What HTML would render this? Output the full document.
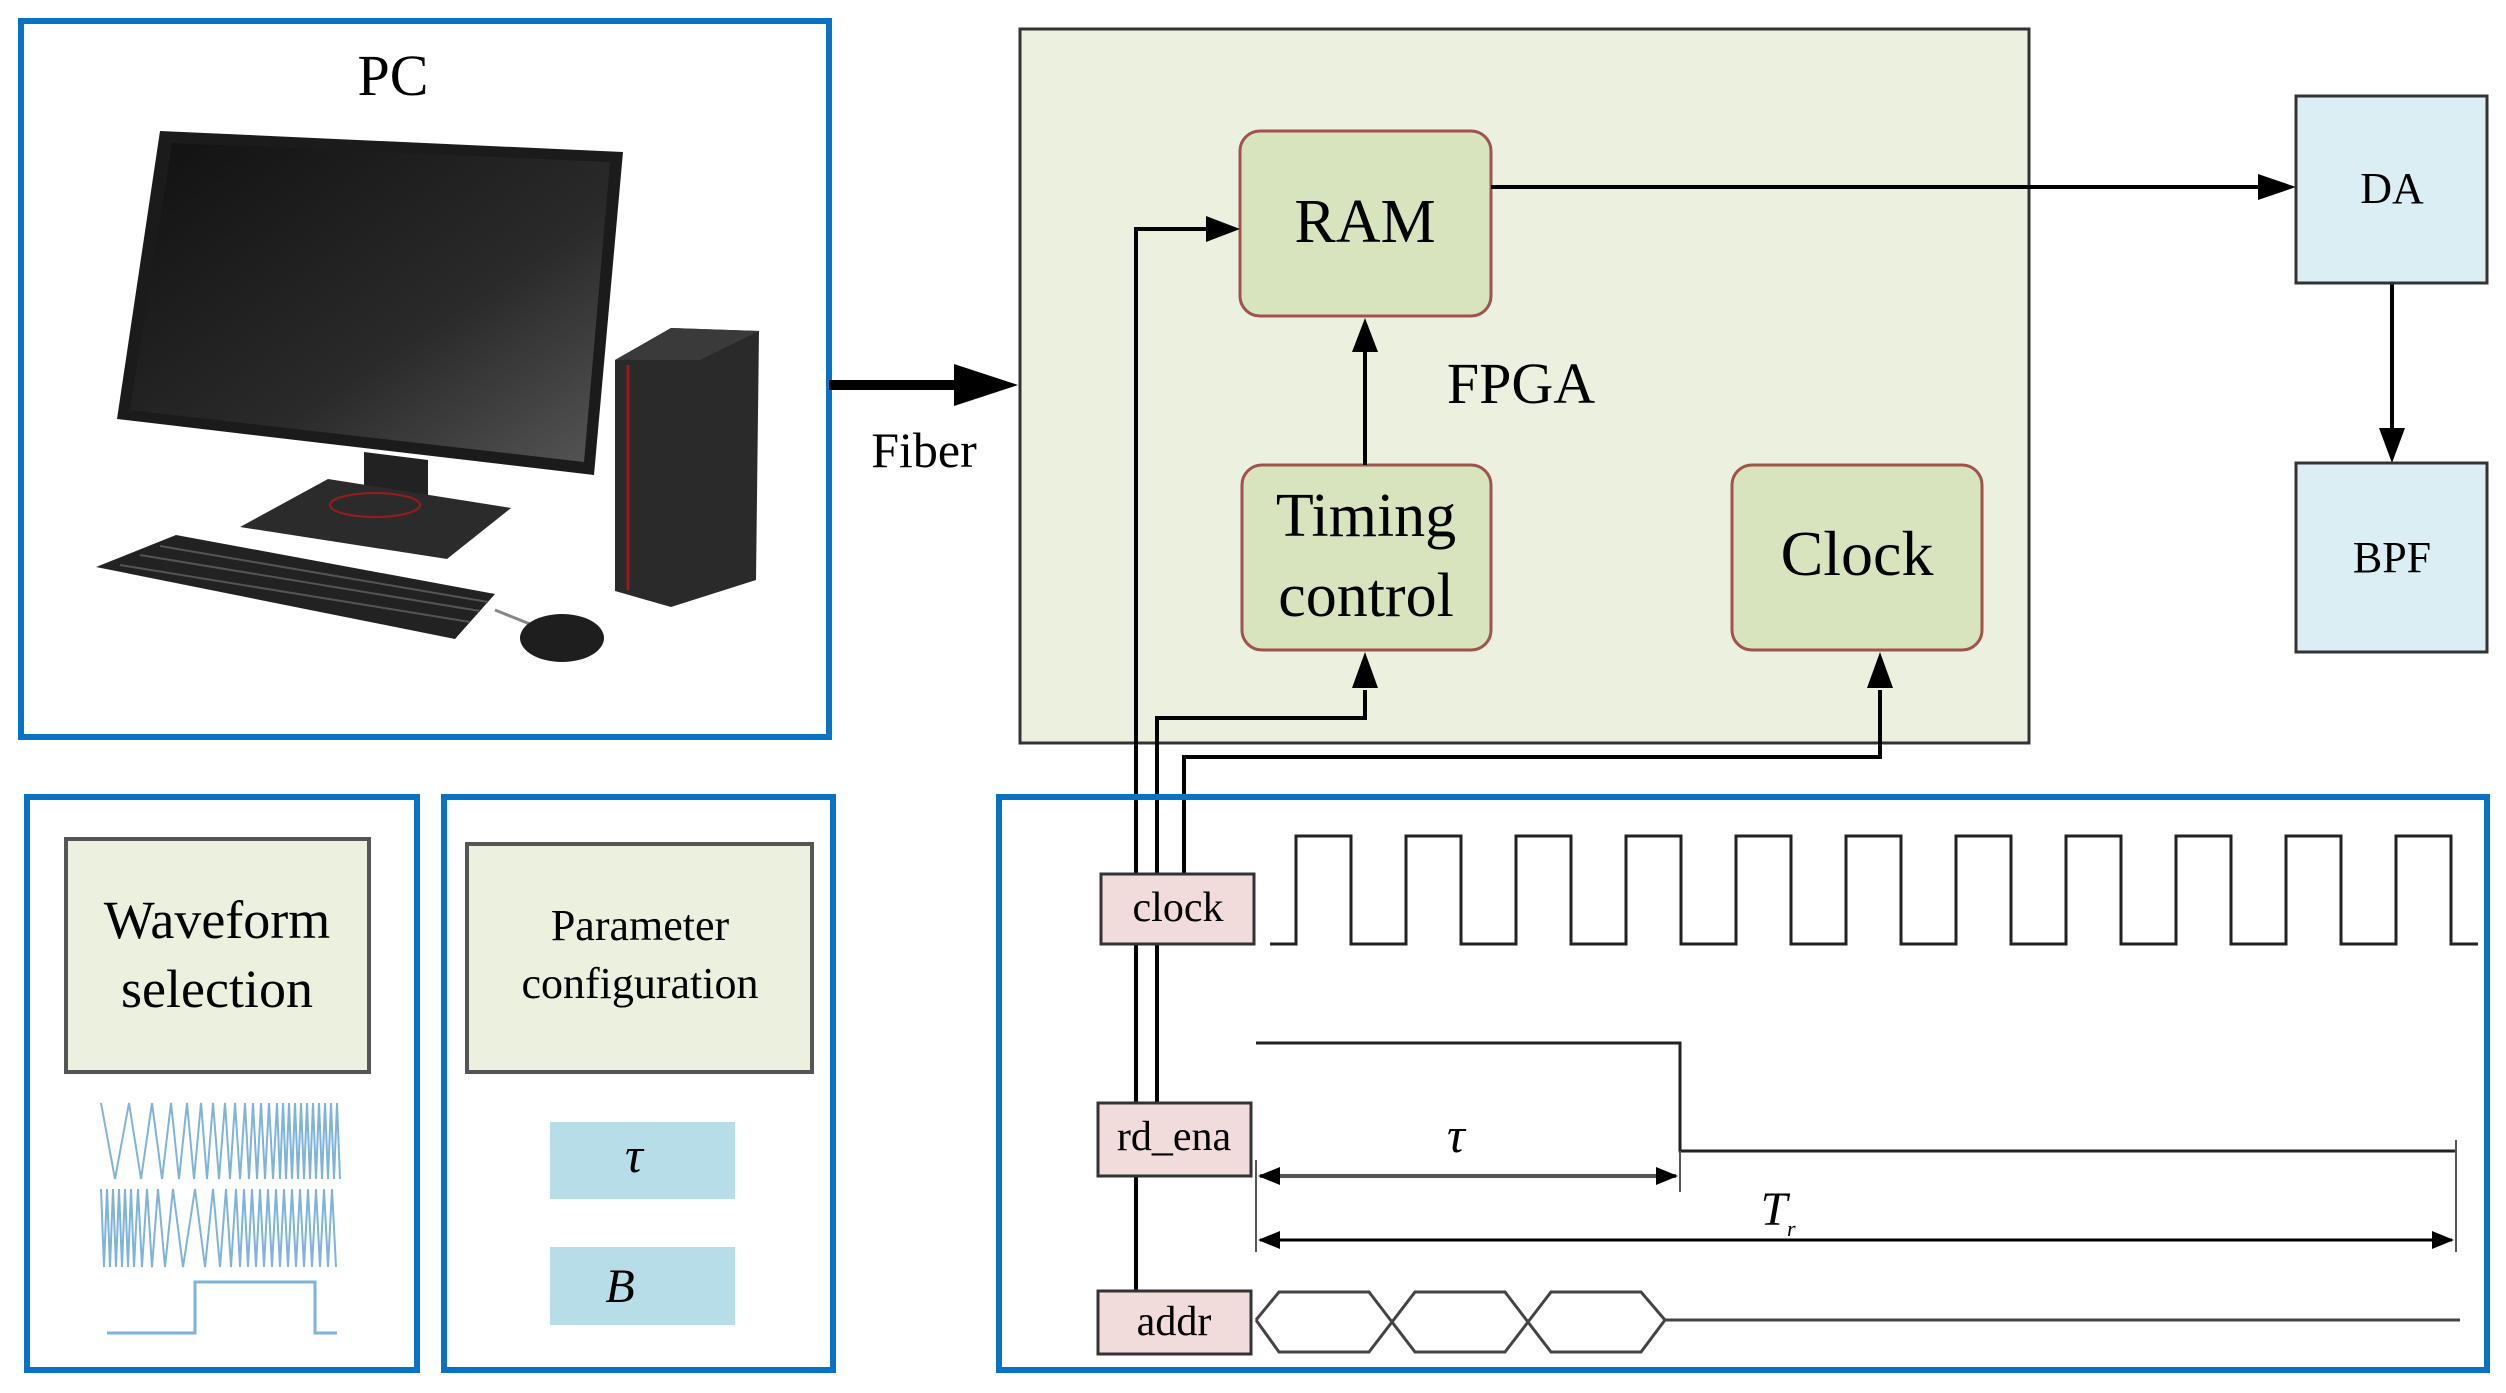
<!DOCTYPE html>
<html><head><meta charset="utf-8"><style>
html,body{margin:0;padding:0;background:#fff;}
svg{display:block;}
svg text{font-family:"Liberation Serif","Times New Roman","DejaVu Serif",serif !important;fill:#000;}
</style></head><body>
<svg width="2506" height="1393" viewBox="0 0 2506 1393" xmlns="http://www.w3.org/2000/svg" font-family="Liberation Serif, serif">
<defs>
<linearGradient id="scr" x1="0" y1="0" x2="1" y2="1"><stop offset="0" stop-color="#111"/><stop offset="0.6" stop-color="#2a2a2a"/><stop offset="1" stop-color="#555"/></linearGradient>
</defs>

<rect x="21" y="21" width="808" height="716" fill="#fff" stroke="#0a72c4" stroke-width="6"/>
<text x="393" y="95" font-size="58" text-anchor="middle" font-family="Liberation Serif, serif">PC</text>
<polygon points="160,131 623,152 594,475 117,419" fill="#1b1b1b"/>
<polygon points="172,143 610,162 584,462 130,410" fill="url(#scr)"/>
<polygon points="364,452 428,460 428,510 364,503" fill="#222"/>
<polygon points="240,527 328,479 511,508 447,559" fill="#2b2b2b"/>
<ellipse cx="375" cy="505" rx="45" ry="12" fill="none" stroke="#9b1b1b" stroke-width="2"/>
<polygon points="96,567 176,535 495,594 455,639" fill="#222"/>
<g stroke="#555" stroke-width="2">
<line x1="120" y1="565" x2="470" y2="622"/><line x1="140" y1="555" x2="480" y2="611"/><line x1="160" y1="546" x2="488" y2="602"/>
</g>
<path d="M495,610 Q520,620 545,630" stroke="#888" stroke-width="3" fill="none"/>
<ellipse cx="562" cy="638" rx="42" ry="24" fill="#1e1e1e"/>
<polygon points="615,360 671,328 759,331 756,580 671,607 615,591" fill="#2a2a2a"/>
<polygon points="615,360 671,328 759,331 700,360" fill="#3a3a3a"/>
<line x1="628" y1="365" x2="628" y2="590" stroke="#9b1b1b" stroke-width="3"/>

<line x1="829" y1="385" x2="960" y2="385" stroke="#000" stroke-width="10"/>
<polygon points="954,364 1018,385 954,406" fill="#000"/>
<text x="924" y="467" font-size="50" text-anchor="middle">Fiber</text>

<rect x="1020" y="29" width="1009" height="714" fill="#ebf1de" stroke="#333" stroke-width="3"/>
<rect x="1240" y="131" width="251" height="185" rx="20" fill="#d7e4bd" stroke="#a0524d" stroke-width="3"/>
<text x="1365" y="242" font-size="62" text-anchor="middle">RAM</text>
<text x="1521" y="403" font-size="58" text-anchor="middle">FPGA</text>
<rect x="1242" y="465" width="249" height="185" rx="20" fill="#d7e4bd" stroke="#a0524d" stroke-width="3"/>
<text x="1366" y="536" font-size="62" text-anchor="middle">Timing</text>
<text x="1366" y="616" font-size="62" text-anchor="middle">control</text>
<rect x="1732" y="465" width="250" height="185" rx="20" fill="#d7e4bd" stroke="#a0524d" stroke-width="3"/>
<text x="1857" y="575" font-size="64" text-anchor="middle">Clock</text>

<g stroke="#000" stroke-width="4" fill="none">
<line x1="1365" y1="465" x2="1365" y2="350"/>
<line x1="1491" y1="187" x2="2260" y2="187"/>
<line x1="2392" y1="283" x2="2392" y2="430"/>
<polyline points="1136,1291 1136,229 1210,229"/>
<polyline points="1157,1103 1157,718 1365,718 1365,690"/>
<polyline points="1184,874 1184,757 1880,757 1880,690"/>
</g>
<g fill="#000">
<polygon points="1352,352 1365,318 1378,352"/>
<polygon points="2258,174 2296,187 2258,200"/>
<polygon points="2379,428 2392,463 2405,428"/>
<polygon points="1206,216 1240,229 1206,242"/>
<polygon points="1352,688 1365,652 1378,688"/>
<polygon points="1867,688 1880,652 1893,688"/>
</g>

<rect x="2296" y="96" width="191" height="187" fill="#dbeef4" stroke="#333" stroke-width="3"/>
<text x="2392" y="203" font-size="44" text-anchor="middle">DA</text>
<rect x="2296" y="463" width="191" height="189" fill="#dbeef4" stroke="#333" stroke-width="3"/>
<text x="2392" y="572" font-size="44" text-anchor="middle">BPF</text>

<rect x="27" y="797" width="390" height="573" fill="#fff" stroke="#0a72c4" stroke-width="6"/>
<rect x="66" y="839" width="303" height="233" fill="#ebf1de" stroke="#555" stroke-width="4"/>
<text x="217" y="938" font-size="54" text-anchor="middle">Waveform</text>
<text x="217" y="1007" font-size="54" text-anchor="middle">selection</text>
<g stroke="#7fb3d8" stroke-width="2" fill="none">
<path d="M101,1103 L115,1179 L129,1103 L141,1179 L152,1103 L162,1179 L171,1103 L179,1179 L187,1103 L194,1179 L201,1103 L207,1179 L213,1103 L219,1179 L225,1103 L230,1179 L235,1103 L240,1179 L245,1103 L249,1179 L253,1103 L257,1179 L261,1103 L265,1179 L269,1103 L273,1179 L277,1103 L280,1179 L283,1103 L286,1179 L289,1103 L292,1179 L295,1103 L298,1179 L301,1103 L304,1179 L307,1103 L310,1179 L313,1103 L316,1179 L319,1103 L322,1179 L325,1103 L328,1179 L331,1103 L334,1179 L337,1103 L340,1179"/>
<path d="M101,1189 L104,1267 L107,1189 L110,1267 L113,1189 L116,1267 L119,1189 L122,1267 L125,1189 L128,1267 L131,1189 L134,1267 L138,1189 L142,1267 L147,1189 L152,1267 L158,1189 L165,1267 L173,1189 L183,1267 L195,1189 L205,1267 L213,1189 L220,1267 L226,1189 L231,1267 L236,1189 L240,1267 L244,1189 L248,1267 L252,1189 L256,1267 L260,1189 L264,1267 L268,1189 L272,1267 L276,1189 L280,1267 L284,1189 L288,1267 L292,1189 L296,1267 L300,1189 L304,1267 L308,1189 L312,1267 L316,1189 L320,1267 L324,1189 L328,1267 L332,1189 L336,1267"/>
</g>
<polyline points="107,1333 195,1333 195,1282 315,1282 315,1333 337,1333" stroke="#7fb3d8" stroke-width="3" fill="none"/>

<rect x="444" y="797" width="389" height="573" fill="#fff" stroke="#0a72c4" stroke-width="6"/>
<rect x="467" y="844" width="345" height="228" fill="#ebf1de" stroke="#555" stroke-width="4"/>
<text x="640" y="940" font-size="44" text-anchor="middle">Parameter</text>
<text x="640" y="998" font-size="44" text-anchor="middle">configuration</text>
<rect x="550" y="1122" width="185" height="77" fill="#b7dde8"/>
<text x="634" y="1172" font-size="50" font-style="italic" text-anchor="middle">τ</text>
<rect x="550" y="1247" width="185" height="78" fill="#b7dde8"/>
<text x="620" y="1302" font-size="48" font-style="italic" text-anchor="middle">B</text>

<rect x="999" y="797" width="1488" height="573" fill="none" stroke="#0a72c4" stroke-width="6"/>
<rect x="1101" y="874" width="153" height="70" fill="#f2dcdb" stroke="#333" stroke-width="3"/>
<text x="1178" y="921" font-size="42" text-anchor="middle">clock</text>
<rect x="1098" y="1103" width="153" height="73" fill="#f2dcdb" stroke="#333" stroke-width="3"/>
<text x="1174" y="1150" font-size="42" text-anchor="middle">rd_ena</text>
<rect x="1098" y="1291" width="153" height="63" fill="#f2dcdb" stroke="#333" stroke-width="3"/>
<text x="1174" y="1335" font-size="42" text-anchor="middle">addr</text>

<path d="M1270,944 L1296,944 L1296,836 L1351,836 L1351,944 L1406,944 L1406,836 L1461,836 L1461,944 L1516,944 L1516,836 L1571,836 L1571,944 L1626,944 L1626,836 L1681,836 L1681,944 L1736,944 L1736,836 L1791,836 L1791,944 L1846,944 L1846,836 L1901,836 L1901,944 L1956,944 L1956,836 L2011,836 L2011,944 L2066,944 L2066,836 L2121,836 L2121,944 L2176,944 L2176,836 L2231,836 L2231,944 L2286,944 L2286,836 L2341,836 L2341,944 L2396,944 L2396,836 L2451,836 L2451,944 L2478,944" stroke="#222" stroke-width="3" fill="none"/>

<polyline points="1256,1043 1680,1043 1680,1151 2456,1151" stroke="#222" stroke-width="3" fill="none"/>
<g stroke="#555" stroke-width="2">
<line x1="1256" y1="1160" x2="1256" y2="1252"/>
<line x1="1680" y1="1151" x2="1680" y2="1192"/>
<line x1="2456" y1="1140" x2="2456" y2="1252"/>
</g>
<line x1="1260" y1="1176" x2="1676" y2="1176" stroke="#555" stroke-width="4"/>
<polygon points="1258,1176 1280,1167 1280,1185" fill="#000"/>
<polygon points="1678,1176 1656,1167 1656,1185" fill="#000"/>
<text x="1456" y="1152" font-size="50" font-style="italic" text-anchor="middle">τ</text>
<line x1="1260" y1="1240" x2="2452" y2="1240" stroke="#000" stroke-width="3"/>
<polygon points="1258,1240 1280,1231 1280,1249" fill="#000"/>
<polygon points="2454,1240 2432,1231 2432,1249" fill="#000"/>
<text x="1774" y="1225" font-size="48" font-style="italic" text-anchor="middle">T</text>
<text x="1787" y="1236" font-size="22" font-style="italic">r</text>

<path d="M1256,1320 L1279,1292 L1369,1292 L1415,1352 L1505,1352 L1551,1292 L1641,1292 L1665,1320 M1256,1320 L1279,1352 L1369,1352 L1415,1292 L1505,1292 L1551,1352 L1641,1352 L1665,1320 L2460,1320" stroke="#444" stroke-width="3" fill="none"/>
<path d="M1392,1320 L1392,1320" stroke="none"/>
</svg>
</body></html>
